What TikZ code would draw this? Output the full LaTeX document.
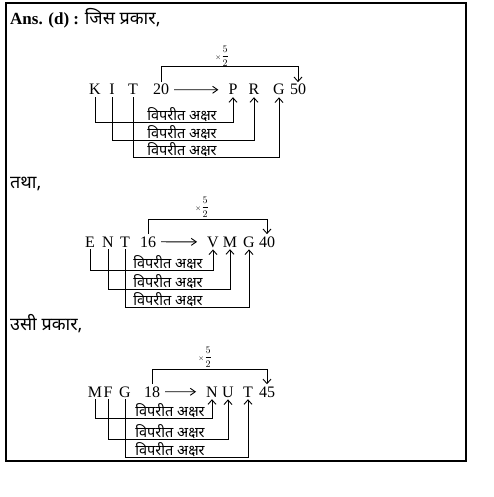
\documentclass[tikz,border=0pt]{standalone}
\usepackage{fontspec}
\setmainfont{Liberation Serif}
\newfontfamily\deva[Script=Devanagari]{Noto Sans}
\usetikzlibrary{arrows.meta,calc}
\tikzset{
  letterNode/.style={anchor=base, inner sep=2pt, font=\fontsize{16}{18}\selectfont},
  revLabel/.style={anchor=south, inner sep=0.5pt, font=\deva\fontsize{14.5}{16}\selectfont},
  headText/.style={anchor=base west, inner sep=0pt, font=\fontsize{17}{20}\selectfont},
  headDeva/.style={font=\deva\fontsize{18}{20}\selectfont},
  factorNode/.style={inner sep=0pt, font=\fontsize{10}{12}\selectfont},
  linkArrow/.style={line width=0.9pt, -{Straight Barb[length=4.5pt,width=8pt]}},
  mapArrow/.style={line width=0.9pt, -{Straight Barb[length=5pt,width=7pt]},
    shorten <=3pt, shorten >=8pt}
}
\newcommand{\factor}{$\scriptstyle\times\displaystyle\frac{5}{2}$}
\begin{document}
\begin{tikzpicture}[x=1pt,y=-1pt]
  \useasboundingbox (0,0) rectangle (494,497);
  \draw[line width=1.3pt] (6,3) rectangle (466,461);

  % headings
  \node[headText] (head1) at (10,25) {\textbf{Ans. (d) :} {\deva\fontsize{18}{20}\selectfont जिस प्रकार,}};
  \node[headText, headDeva] (head2) at (10,188) {तथा,};
  \node[headText, headDeva] (head3) at (10,330) {उसी प्रकार,};

  % first block: KIT 20 -> PRG 50
  \node[letterNode] (aK) at (95,95) {K};
  \node[letterNode] (aI) at (112,95) {I};
  \node[letterNode] (aT) at (133,95) {T};
  \node[letterNode] (a20) at (161,95) {20};
  \node[letterNode] (aP) at (233,95) {P};
  \node[letterNode] (aR) at (254,95) {R};
  \node[letterNode] (aG) at (279,95) {G};
  \node[letterNode] (a50) at (298,95) {50};
  \coordinate (aTop) at (0,66);
  \node[factorNode] (aFac) at (222,56) {\factor};
  \draw[mapArrow] (a20.east) -- (aP.west);
  \draw[linkArrow] (a20.north) -- (a20.north |- aTop) -| (a50.north);
  \foreach \src/\dst/\lev [count=\i] in {aK/aP/122, aI/aR/140, aT/aG/157} {
    \coordinate (aLev\i) at (0,\lev);
    \draw[linkArrow] (\src.south) -- (\src.south |- aLev\i) -| (\dst.south);
    \node[revLabel] (aLab\i) at (182,\lev) {विपरीत अक्षर};
  }

  % second block: ENT 16 -> VMG 40
  \node[letterNode] (bE) at (90,247) {E};
  \node[letterNode] (bN) at (108,247) {N};
  \node[letterNode] (bT) at (125,247) {T};
  \node[letterNode] (b16) at (148,247) {16};
  \node[letterNode] (bV) at (213,247) {V};
  \node[letterNode] (bM) at (230,247) {M};
  \node[letterNode] (bG) at (249,247) {G};
  \node[letterNode] (b40) at (267,247) {40};
  \coordinate (bTop) at (0,219);
  \node[factorNode] (bFac) at (202,207) {\factor};
  \draw[mapArrow] (b16.east) -- (bV.west);
  \draw[linkArrow] (b16.north) -- (b16.north |- bTop) -| (b40.north);
  \foreach \src/\dst/\lev [count=\i] in {bE/bV/270, bN/bM/289, bT/bG/307} {
    \coordinate (bLev\i) at (0,\lev);
    \draw[linkArrow] (\src.south) -- (\src.south |- bLev\i) -| (\dst.south);
    \node[revLabel] (bLab\i) at (168,\lev) {विपरीत अक्षर};
  }

  % third block: MFG 18 -> NUT 45
  \node[letterNode] (cM) at (95,397) {M};
  \node[letterNode] (cF) at (108,397) {F};
  \node[letterNode] (cG) at (125,397) {G};
  \node[letterNode] (c18) at (152,397) {18};
  \node[letterNode] (cN) at (212,397) {N};
  \node[letterNode] (cU) at (228,397) {U};
  \node[letterNode] (cT) at (248,397) {T};
  \node[letterNode] (c45) at (267,397) {45};
  \coordinate (cTop) at (0,369);
  \node[factorNode] (cFac) at (205,357) {\factor};
  \draw[mapArrow] (c18.east) -- (cN.west);
  \draw[linkArrow] (c18.north) -- (c18.north |- cTop) -| (c45.north);
  \foreach \src/\dst/\lev [count=\i] in {cM/cN/418, cF/cU/439, cG/cT/457} {
    \coordinate (cLev\i) at (0,\lev);
    \draw[linkArrow] (\src.south) -- (\src.south |- cLev\i) -| (\dst.south);
    \node[revLabel] (cLab\i) at (170,\lev) {विपरीत अक्षर};
  }
\end{tikzpicture}
\end{document}
